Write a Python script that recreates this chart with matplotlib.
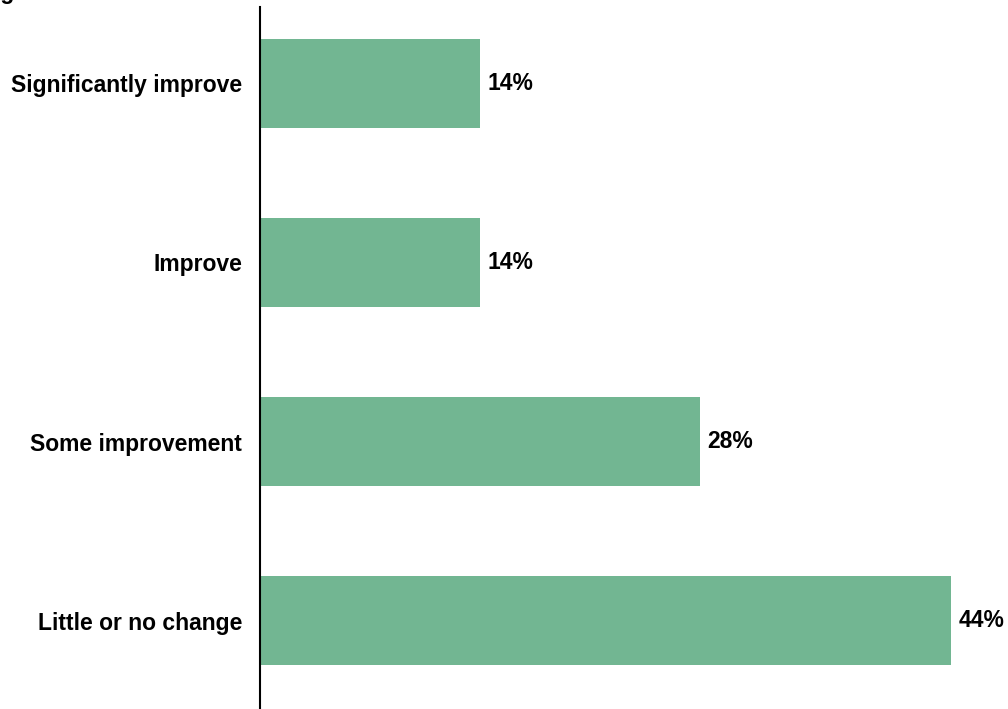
import matplotlib.pyplot as plt

categories = ['Significantly improve', 'Improve', 'Some improvement', 'Little or no change']
values = [14, 14, 28, 44]
labels = ['14%', '14%', '28%', '44%']

bar_color = '#72B692'

plt.rcParams['font.family'] = ['Liberation Sans', 'DejaVu Sans']

fig = plt.figure(figsize=(10.08, 7.09), dpi=100)
ax = fig.add_axes([260 / 1008, 0, 748 / 1008, 702 / 709])

ypos = list(range(len(categories)))
ax.barh(ypos, values, height=0.5, color=bar_color, zorder=2)

for y, v, lab in zip(ypos, values, labels):
    ax.text(v + 0.45, y, lab, va='center', ha='left', fontsize=16.5, fontweight='bold')

ax.set_xlim(0, 47.6)
ax.set_ylim(3.494, -0.427)
ax.set_yticks(ypos)
ax.set_yticklabels(categories, fontsize=16.5, fontweight='bold')
ax.tick_params(axis='y', length=0, pad=13)
ax.set_xticks([])

for side in ['top', 'right', 'bottom']:
    ax.spines[side].set_visible(False)
ax.spines['left'].set_linewidth(1.5)
ax.spines['left'].set_color('black')

# title line sits just above the top edge, only its descenders show
fig.text(-20 / 1008, 1 + 1 / 709, 'Figure 5:', fontsize=16.5, fontweight='bold',
         va='baseline', ha='left')

fig.savefig('out.png', dpi=100)
